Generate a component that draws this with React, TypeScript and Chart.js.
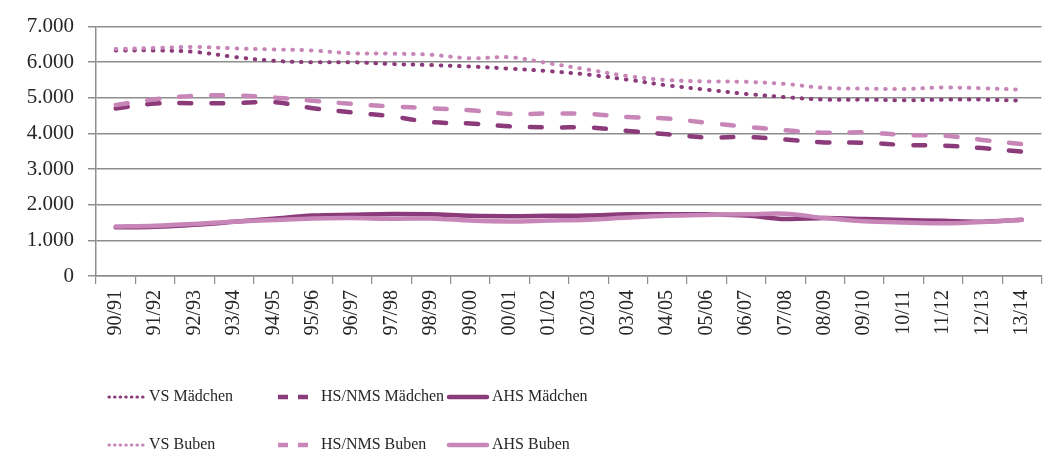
import React, { useEffect, useRef } from 'react';
import { Chart, registerables } from 'chart.js';

Chart.register(...registerables);

const categories = [
  '90/91', '91/92', '92/93', '93/94', '94/95', '95/96', '96/97', '97/98',
  '98/99', '99/00', '00/01', '01/02', '02/03', '03/04', '04/05', '05/06',
  '06/07', '07/08', '08/09', '09/10', '10/11', '11/12', '12/13', '13/14',
];

const vsMaedchen = [6330, 6330, 6290, 6150, 6040, 6000, 6000, 5950, 5920, 5880, 5820, 5750, 5650, 5510, 5350, 5230, 5110, 5020, 4950, 4950, 4930, 4950, 4950, 4920];
const vsBuben = [6370, 6400, 6430, 6390, 6360, 6330, 6250, 6240, 6210, 6110, 6140, 5970, 5790, 5610, 5500, 5460, 5450, 5390, 5280, 5260, 5250, 5290, 5270, 5230];
const hsMaedchen = [4700, 4840, 4850, 4850, 4880, 4710, 4590, 4480, 4320, 4280, 4200, 4170, 4170, 4070, 3980, 3890, 3900, 3830, 3750, 3740, 3680, 3660, 3590, 3490];
const hsBuben = [4800, 4960, 5060, 5070, 5010, 4920, 4830, 4760, 4710, 4650, 4550, 4560, 4550, 4460, 4420, 4300, 4190, 4090, 4020, 4030, 3960, 3940, 3820, 3700];
const ahsMaedchen = [1365, 1385, 1440, 1520, 1605, 1695, 1720, 1740, 1730, 1690, 1680, 1690, 1700, 1730, 1730, 1730, 1700, 1600, 1625, 1600, 1570, 1550, 1525, 1580];
const ahsBuben = [1390, 1410, 1460, 1525, 1570, 1615, 1625, 1605, 1615, 1555, 1530, 1555, 1580, 1640, 1690, 1715, 1730, 1750, 1625, 1535, 1500, 1480, 1515, 1580];

const seriesLabels = ['VS Mädchen', 'HS/NMS Mädchen', 'AHS Mädchen', 'VS Buben', 'HS/NMS Buben', 'AHS Buben'];

const DARK = '#8b3a7a';
const LIGHT = '#c785b8';
const GRID = '#8e8e8e';
const TEXT = '#262626';
const FONT = '"Liberation Serif", serif';

const fmt = (v: number) => {
  const s = String(Math.round(v));
  return s.replace(/\B(?=(\d{3})+(?!\d))/g, '.');
};

export default function App() {
  const ref = useRef<HTMLCanvasElement>(null);

  useEffect(() => {
    if (!ref.current) return;

    const legendPlugin = {
      id: 'customLegend',
      afterDraw(chart: any) {
        const ctx = chart.ctx as CanvasRenderingContext2D;
        const cols = [
          { s0: 109, s1: 143, tx: 149, kind: 'dot' },
          { s0: 278, s1: 308, tx: 321, kind: 'dash' },
          { s0: 449, s1: 487, tx: 492, kind: 'solid' },
        ];
        const rows = [397, 445];
        ctx.save();
        for (let i = 0; i < 6; i++) {
          const ds = chart.data.datasets[i];
          const col = cols[i % 3];
          const y = rows[Math.floor(i / 3)];
          ctx.beginPath();
          ctx.strokeStyle = ds.borderColor;
          if (col.kind === 'dot') {
            ctx.lineWidth = 3.2;
            ctx.lineCap = 'round';
            ctx.setLineDash([0.4, 5.2]);
          } else if (col.kind === 'dash') {
            ctx.lineWidth = 4.5;
            ctx.lineCap = 'butt';
            ctx.setLineDash([10, 10]);
          } else {
            ctx.lineWidth = 4.5;
            ctx.lineCap = 'round';
            ctx.setLineDash([]);
          }
          ctx.moveTo(col.s0, y);
          ctx.lineTo(col.s1, y);
          ctx.stroke();
          ctx.setLineDash([]);
          ctx.fillStyle = TEXT;
          ctx.font = `16px ${FONT}`;
          ctx.textBaseline = 'middle';
          ctx.textAlign = 'left';
          ctx.fillText(ds.label, col.tx, y);
        }
        ctx.restore();
      },
    };

    const base = { pointRadius: 0, pointHoverRadius: 0, tension: 0.35, fill: false };
    const dotted = { borderWidth: 4, borderDash: [0.6, 8.7], borderCapStyle: 'round' as const };
    const dashed = { borderWidth: 4.5, borderDash: [12, 20], borderCapStyle: 'round' as const };
    const solid = { borderWidth: 4.5, borderCapStyle: 'round' as const, borderJoinStyle: 'round' as const };

    const chart = new Chart(ref.current, {
      type: 'line',
      data: {
        labels: categories,
        datasets: [
          { ...base, ...dotted, label: seriesLabels[0], data: vsMaedchen, borderColor: DARK, backgroundColor: DARK, order: 1 },
          { ...base, ...dashed, label: seriesLabels[1], data: hsMaedchen, borderColor: DARK, backgroundColor: DARK, order: 1 },
          { ...base, ...solid, label: seriesLabels[2], data: ahsMaedchen, borderColor: DARK, backgroundColor: DARK, order: 1 },
          { ...base, ...dotted, label: seriesLabels[3], data: vsBuben, borderColor: LIGHT, backgroundColor: LIGHT, order: 0 },
          { ...base, ...dashed, label: seriesLabels[4], data: hsBuben, borderColor: LIGHT, backgroundColor: LIGHT, order: 0 },
          { ...base, ...solid, label: seriesLabels[5], data: ahsBuben, borderColor: LIGHT, backgroundColor: LIGHT, order: 0 },
        ],
      },
      options: {
        animation: false,
        responsive: false,
        devicePixelRatio: 1,
        layout: { padding: { top: 15, right: 9, bottom: 93, left: 0 } },
        plugins: {
          legend: { display: false },
          tooltip: { enabled: false },
          title: { display: false },
        },
        scales: {
          x: {
            type: 'category',
            offset: true,
            grid: {
              display: true,
              drawOnChartArea: false,
              drawTicks: true,
              tickLength: 8,
              offset: true,
              color: GRID,
              lineWidth: 1.2,
            },
            border: { display: true, color: GRID, width: 1.5 },
            ticks: {
              autoSkip: false,
              minRotation: 90,
              maxRotation: 90,
              padding: 6,
              color: TEXT,
              font: { family: FONT, size: 20 },
            },
            afterFit(scale: any) {
              scale.height = 90;
            },
          },
          y: {
            min: 0,
            max: 7000,
            grid: {
              color: GRID,
              lineWidth: 1.5,
              drawTicks: true,
              tickLength: 8,
            },
            border: { display: true, color: GRID, width: 1.5 },
            ticks: {
              stepSize: 1000,
              padding: 14,
              color: TEXT,
              font: { family: FONT, size: 21 },
              callback: (v: any) => fmt(Number(v)),
            },
            afterFit(scale: any) {
              scale.width = 96;
            },
          },
        },
      },
      plugins: [legendPlugin],
    });

    return () => chart.destroy();
  }, []);

  return (
    <div style={{ position: 'fixed', left: 0, top: 0, width: 1052, height: 459, background: '#fff' }}>
      <canvas ref={ref} width={1052} height={459} style={{ display: 'block', width: 1052, height: 459 }} />
    </div>
  );
}
